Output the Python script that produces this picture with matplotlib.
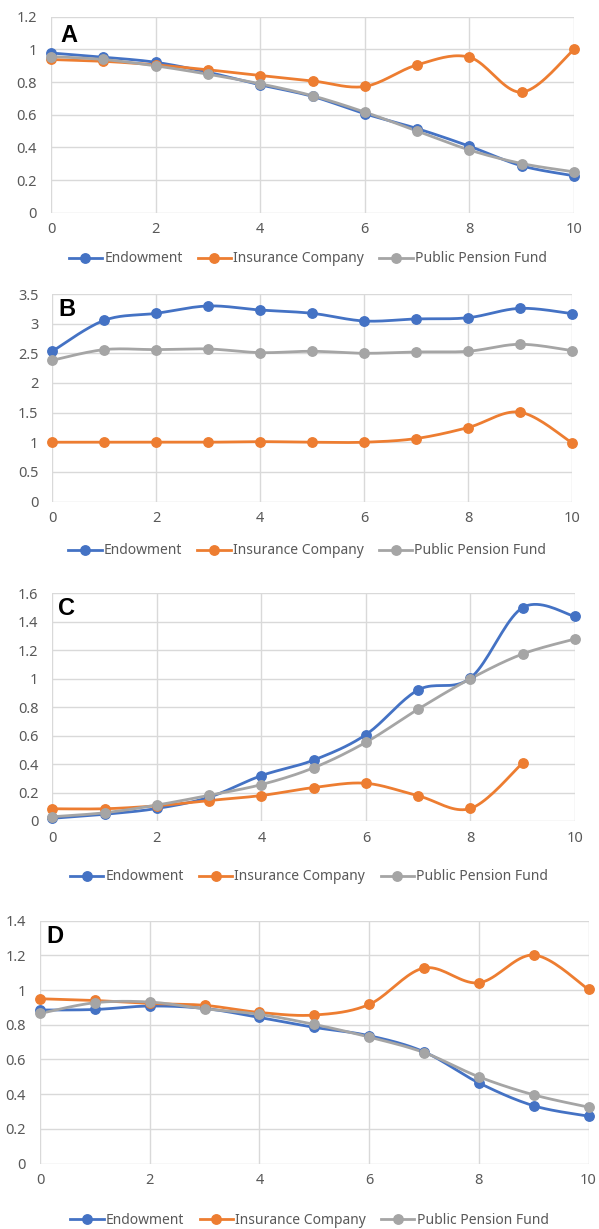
"""Four stacked line panels (A-D): Endowment / Insurance Company / Public Pension Fund,
Excel-style smoothed lines with round markers."""
import numpy as np
import matplotlib
matplotlib.use("Agg")
import matplotlib.pyplot as plt
from matplotlib.ticker import FuncFormatter

plt.rcParams["font.family"] = ["Noto Sans", "DejaVu Sans"]

x = [0, 1, 2, 3, 4, 5, 6, 7, 8, 9, 10]
series_names = ["Endowment", "Insurance Company", "Public Pension Fund"]
colors = ["#4472C4", "#ED7D31", "#A5A5A5"]

# panel A
a_endow = [0.978, 0.952, 0.921, 0.86, 0.783, 0.712, 0.606, 0.515, 0.407, 0.287, 0.226]
a_insur = [0.938, 0.927, 0.905, 0.875, 0.84, 0.807, 0.773, 0.905, 0.952, 0.738, 1.0]
a_pens = [0.956, 0.938, 0.899, 0.848, 0.789, 0.716, 0.616, 0.50, 0.384, 0.301, 0.25]

# panel B
b_endow = [2.534, 3.056, 3.174, 3.298, 3.23, 3.174, 3.045, 3.079, 3.10, 3.258, 3.169]
b_insur = [1.0, 1.0, 1.0, 1.0, 1.01, 1.0, 1.0, 1.062, 1.247, 1.506, 0.99]
b_pens = [2.382, 2.562, 2.562, 2.573, 2.511, 2.534, 2.50, 2.522, 2.534, 2.652, 2.545]

# panel C (insurance has no value at 10)
c_endow = [0.019, 0.047, 0.088, 0.167, 0.319, 0.428, 0.607, 0.921, 1.005, 1.50, 1.437]
c_insur = [0.086, 0.086, 0.107, 0.144, 0.179, 0.235, 0.265, 0.177, 0.088, 0.409, None]
c_pens = [0.03, 0.058, 0.112, 0.181, 0.256, 0.374, 0.553, 0.786, 1.0, 1.174, 1.279]

# panel D
d_endow = [0.885, 0.888, 0.908, 0.894, 0.842, 0.785, 0.737, 0.644, 0.465, 0.333, 0.273]
d_insur = [0.95, 0.94, 0.923, 0.912, 0.871, 0.856, 0.917, 1.127, 1.042, 1.202, 1.004]
d_pens = [0.865, 0.927, 0.931, 0.892, 0.86, 0.802, 0.729, 0.64, 0.50, 0.396, 0.325]

panels = [
    ("A", [a_endow, a_insur, a_pens], 1.2, [0, 0.2, 0.4, 0.6, 0.8, 1, 1.2]),
    ("B", [b_endow, b_insur, b_pens], 3.5, [0, 0.5, 1, 1.5, 2, 2.5, 3, 3.5]),
    ("C", [c_endow, c_insur, c_pens], 1.6, [0, 0.2, 0.4, 0.6, 0.8, 1, 1.2, 1.4, 1.6]),
    ("D", [d_endow, d_insur, d_pens], 1.4, [0, 0.2, 0.4, 0.6, 0.8, 1, 1.2, 1.4]),
]

# pixel layout: left, right, top, bottom of plot area, legend centre y
W, H = 599, 1229
layout = [
    (51, 574, 16.7, 212.7, 259),
    (52.3, 572, 294, 501.5, 551),
    (52.3, 575, 593.3, 821, 877),
    (40, 588.5, 920.7, 1163.5, 1220),
]
letter_off = [(9, 19), (6, 15), (6, 15), (6, 16)]


def smooth(xs, ys, n=20):
    """Catmull-Rom curve through the points, like Excel's smoothed line."""
    p = np.column_stack([xs, ys]).astype(float)
    if len(p) < 3:
        return p[:, 0], p[:, 1]
    ext = np.vstack([p[0], p, p[-1]])
    out = []
    t = np.linspace(0, 1, n, endpoint=False)[:, None]
    for i in range(1, len(ext) - 2):
        p0, p1, p2, p3 = ext[i - 1], ext[i], ext[i + 1], ext[i + 2]
        m1 = (p2 - p0) / 2
        m2 = (p3 - p1) / 2
        h00 = 2 * t**3 - 3 * t**2 + 1
        h10 = t**3 - 2 * t**2 + t
        h01 = -2 * t**3 + 3 * t**2
        h11 = t**3 - t**2
        out.append(h00 * p1 + h10 * m1 + h01 * p2 + h11 * m2)
    out.append(p[-1][None, :])
    c = np.vstack(out)
    return c[:, 0], c[:, 1]


fig = plt.figure(figsize=(W / 100, H / 100), dpi=100)
grid_c = "#D9D9D9"

for (letter, data, ymax, yticks), (l, r, t, b, legy), (lx, ly) in zip(panels, layout, letter_off):
    ax = fig.add_axes([l / W, 1 - b / H, (r - l) / W, (b - t) / H])
    for vals, name, col in zip(data, series_names, colors):
        xs = [xi for xi, v in zip(x, vals) if v is not None]
        ys = [v for v in vals if v is not None]
        sx, sy = smooth(xs, ys)
        ax.plot(sx, sy, color=col, lw=2.0, zorder=3, solid_capstyle="round")
        ax.plot(xs, ys, "o", color=col, ms=6.8, zorder=4)
        ax.plot([], [], "-o", color=col, lw=2.0, ms=6.8, label=name)
    ax.set_xlim(0, 10)
    ax.set_ylim(0, ymax)
    ax.set_xticks([0, 2, 4, 6, 8, 10])
    ax.set_yticks(yticks)
    ax.yaxis.set_major_formatter(FuncFormatter(lambda v, _: f"{v:g}"))
    ax.xaxis.set_major_formatter(FuncFormatter(lambda v, _: f"{v:g}"))
    ax.grid(True, color=grid_c, lw=1.0, zorder=0)
    ax.set_axisbelow(True)
    for s in ax.spines.values():
        s.set_visible(False)
    ax.tick_params(length=0, labelsize=10.5, labelcolor="#595959")
    ax.tick_params(axis="y", pad=10)
    ax.tick_params(axis="x", pad=7)
    for ln in ax.lines:
        ln.set_clip_on(False)
    ax.annotate(letter, xy=(0, 1), xycoords="axes fraction",
                xytext=(lx * 0.72, -ly * 0.72), textcoords="offset points",
                ha="left", va="center", fontsize=17, fontweight="bold",
                family="Liberation Sans", color="black")
    fig.legend(*ax.get_legend_handles_labels(), loc="center",
               bbox_to_anchor=((l + r) / 2 / W - 0.008, 1 - legy / H),
               ncol=3, frameon=False, fontsize=10, handlelength=2.4,
               handletextpad=0.15, columnspacing=1.1, labelcolor="#595959")

fig.savefig("out.png", dpi=100)
